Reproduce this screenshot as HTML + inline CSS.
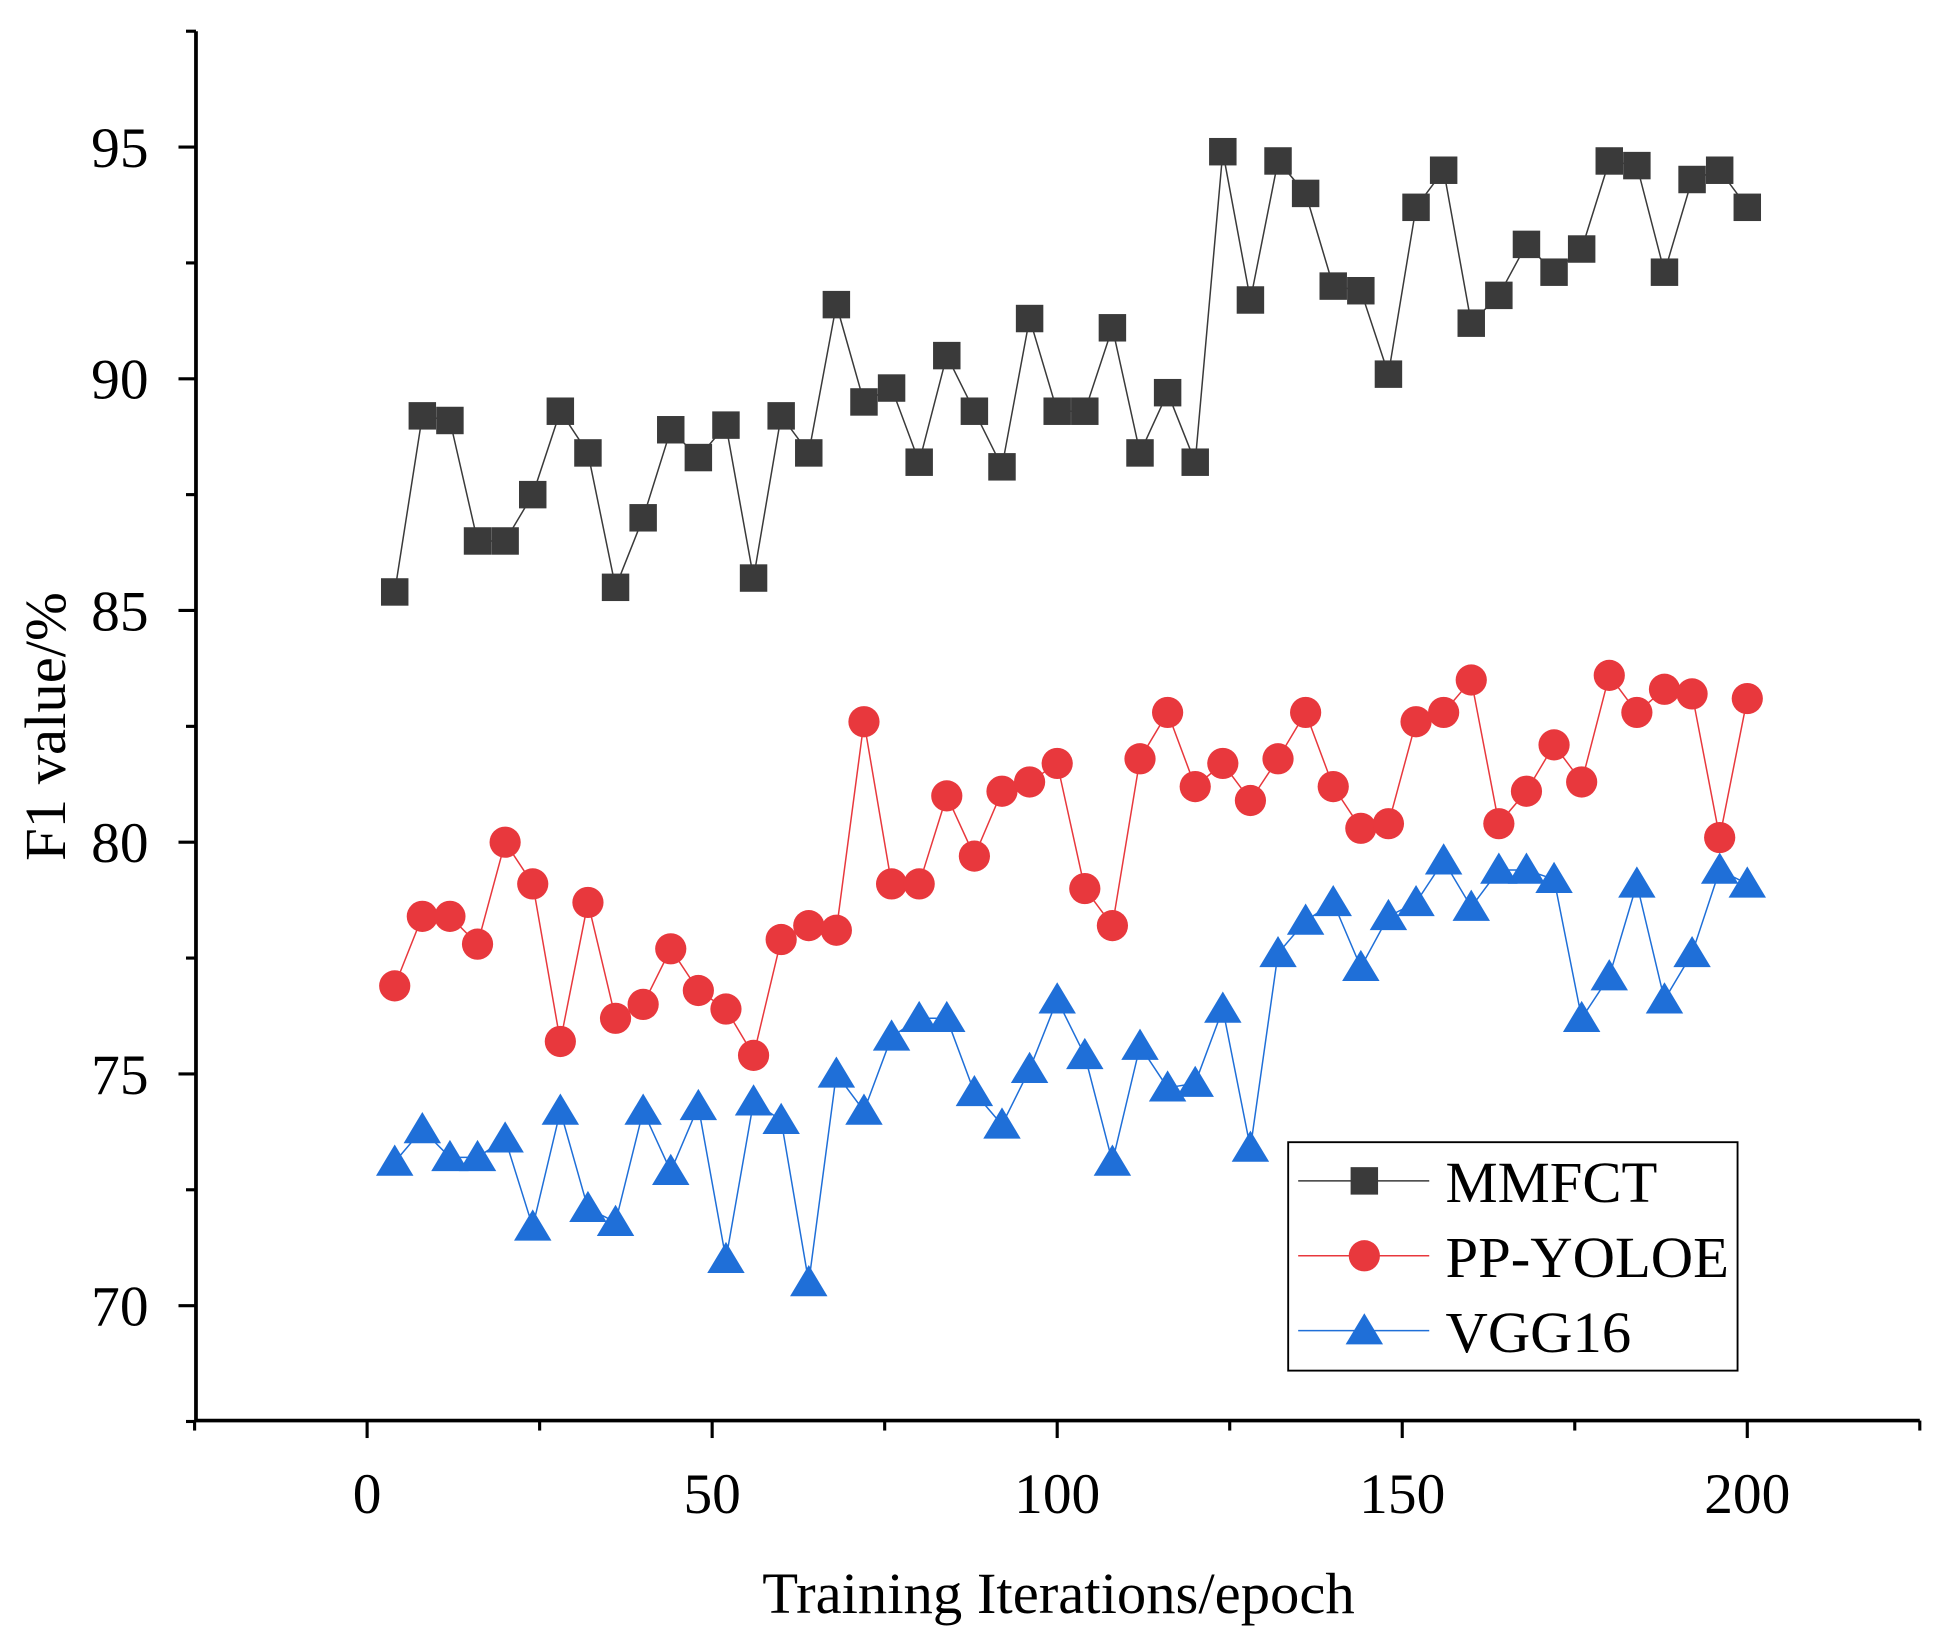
<!DOCTYPE html>
<html><head><meta charset="utf-8"><style>
html,body{margin:0;padding:0;background:#fff;}
svg{display:block;}
text{font-family:"Liberation Serif",serif;fill:#000;}
</style></head><body>
<svg id="chart" width="1956" height="1649" viewBox="0 0 1567 1321" preserveAspectRatio="none" xmlns="http://www.w3.org/2000/svg">
<g id="axes"></g>
<g id="series"></g>
<text x="848" y="1292" font-size="47" text-anchor="middle">Training Iterations/epoch</text>
<text transform="translate(52,582) rotate(-90)" font-size="47" text-anchor="middle">F1 value/%</text>
<g>
<rect x="1032" y="915" width="360" height="183" fill="#fff" stroke="#000" stroke-width="1.5"/>
<g><line x1="1040" y1="946" x2="1145" y2="946" stroke="#3a3a3a" stroke-width="1.2"/><rect x="1082" y="935" width="22" height="22" fill="#3a3a3a"/><text x="1158" y="963" font-size="47">MMFCT</text></g>
<g><line x1="1040" y1="1006" x2="1145" y2="1006" stroke="#e8383d" stroke-width="1.2"/><circle cx="1093" cy="1006" r="12.5" fill="#e8383d"/><text x="1158" y="1023" font-size="47">PP-YOLOE</text></g>
<g><line x1="1040" y1="1066" x2="1145" y2="1066" stroke="#1f6fd8" stroke-width="1.2"/><polygon points="1093,1052 1108,1077 1078,1077" fill="#1f6fd8"/><text x="1158" y="1083" font-size="47">VGG16</text></g>
</g>
</svg>
<script>
const epochs=[];for(let e=4;e<=200;e+=4)epochs.push(e);
const mmfct=[85.4,89.2,89.1,86.5,86.5,87.5,89.3,88.4,85.5,87,88.9,88.3,89,85.7,89.2,88.4,91.6,89.5,89.8,88.2,90.5,89.3,88.1,91.3,89.3,89.3,91.1,88.4,89.7,88.2,94.9,91.7,94.7,94,92,91.9,90.1,93.7,94.5,91.2,91.8,92.9,92.3,92.8,94.7,94.6,92.3,94.3,94.5,93.7];
const ppyoloe=[76.9,78.4,78.4,77.8,80,79.1,75.7,78.7,76.2,76.5,77.7,76.8,76.4,75.4,77.9,78.2,78.1,82.6,79.1,79.1,81,79.7,81.1,81.3,81.7,79,78.2,81.8,82.8,81.2,81.7,80.9,81.8,82.8,81.2,80.3,80.4,82.6,82.8,83.5,80.4,81.1,82.1,81.3,83.6,82.8,83.3,83.2,80.1,83.1];
const vgg16=[73.1,73.8,73.2,73.2,73.6,71.7,74.2,72.1,71.8,74.2,72.9,74.3,71,74.4,74,70.5,75,74.2,75.8,76.2,76.2,74.6,73.9,75.1,76.6,75.4,73.1,75.6,74.7,74.8,76.4,73.4,77.6,78.3,78.7,77.3,78.4,78.7,79.6,78.6,79.4,79.4,79.2,76.2,77.1,79.1,76.6,77.6,79.4,79.1];
const xMajor=[0,50,100,150,200];
const yMajor=[70,75,80,85,90,95];
const NS="http://www.w3.org/2000/svg";
const L=157,R=1538,T=25,B=1138;
const xmin=-24.8,xmax=225,ymin=67.52,ymax=97.5;
const X=v=>L+(v-xmin)/(xmax-xmin)*(R-L);
const Y=v=>B-(v-ymin)/(ymax-ymin)*(B-T);
function mk(tag,attrs,parent){const e=document.createElementNS(NS,tag);for(const k in attrs)e.setAttribute(k,attrs[k]);parent.appendChild(e);return e;}
const ax=document.getElementById('axes');
let a=mk('line',{x1:L,y1:T,x2:L,y2:B,stroke:'#000','stroke-width':3},ax);


a=mk('line',{x1:L,y1:B,x2:R,y2:B,stroke:'#000','stroke-width':3},ax);


for(let v=-25;v<=225;v+=25){const maj=xMajor.includes(v);const t=mk('line',{x1:X(v),y1:B,x2:X(v),y2:B+(maj?14:8),stroke:'#000','stroke-width':2.5},ax);

}
xMajor.forEach(v=>{const t=mk('text',{x:X(v),y:B+74,'font-size':46,'text-anchor':'middle'},ax);t.textContent=v;

});
for(let v=67.5;v<=97.5;v+=2.5){const maj=yMajor.includes(v);const t=mk('line',{x1:L,y1:Y(v),x2:L-(maj?14:8),y2:Y(v),stroke:'#000','stroke-width':2.5},ax);

}
yMajor.forEach(v=>{const t=mk('text',{x:L-38,y:Y(v)+16,'font-size':46,'text-anchor':'end'},ax);t.textContent=v;

});
const sg=document.getElementById('series');
function series(data,color,shape,name){
const g=mk('g',{},sg);


const pl=mk('polyline',{points:data.map((v,i)=>X(epochs[i])+','+Y(v)).join(' '),fill:'none',stroke:color,'stroke-width':1.2},g);


data.forEach((v,i)=>{const x=X(epochs[i]),y=Y(v);let m;
if(shape==='sq')m=mk('rect',{x:x-11,y:y-11,width:22,height:22,fill:color},g);
else if(shape==='c')m=mk('circle',{cx:x,cy:y,r:12.5,fill:color},g);
else m=mk('polygon',{points:`${x},${y-14} ${x+15},${y+11} ${x-15},${y+11}`,fill:color},g);

});}
series(mmfct,'#3a3a3a','sq','mmfct');
series(ppyoloe,'#e8383d','c','ppyoloe');
series(vgg16,'#1f6fd8','t','vgg16');
</script>
</body></html>
